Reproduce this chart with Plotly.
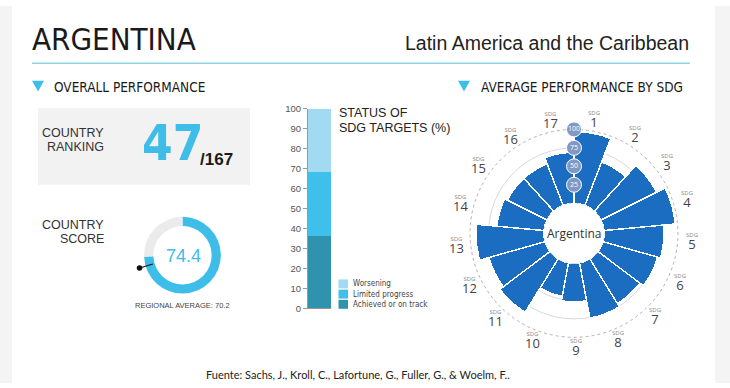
import math
import plotly.graph_objects as go

W, H = 730, 388

# ---------------- data ----------------
country = "ARGENTINA"
region = "Latin America and the Caribbean"
ranking = 47
n_countries = 167
score = 74.4
regional_avg = 70.2

status_labels = ["Achieved or on track", "Limited progress", "Worsening"]
status_values = [36.2, 32.0, 31.8]
status_colors = ["#2f93ae", "#3fc0ea", "#a2daf2"]

sdg_numbers = list(range(1, 18))
sdg_scores = [97, 63, 84, 97, 81, 77, 71, 76, 52, 46, 85, 79, 92, 64, 60, 60, 69]
radial_ticks = [25, 50, 75, 100]
bar_ticks = list(range(0, 101, 10))

BLUE = "#3dbde8"
NARROW = "DejaVu Sans Condensed, Liberation Sans Narrow, sans-serif"
SANS = "Liberation Sans, Arial, sans-serif"
OPEN = "Open Sans, sans-serif"


def X(px):
    return px / W


def Y(py):
    return 1 - py / H


fig = go.Figure()

# ---------------- stacked status bar ----------------
for lab, val, col in zip(status_labels, status_values, status_colors):
    fig.add_trace(go.Bar(x=[0.5], y=[val], width=1, name=lab, marker=dict(color=col, line=dict(width=0)),
                         showlegend=False, hoverinfo="skip", xaxis="x", yaxis="y"))

# ---------------- donut ----------------
fig.add_trace(go.Pie(values=[score, 100 - score], marker=dict(colors=[BLUE, "#ebebeb"], line=dict(width=0)),
                     hole=0.76, sort=False, direction="clockwise", rotation=0, textinfo="none",
                     hoverinfo="skip", showlegend=False,
                     domain=dict(x=[X(143), X(222)], y=[Y(296), Y(217)])))

# ---------------- polar SDG chart ----------------
n = len(sdg_numbers)
step = 360 / n
thetas = [(i + 0.5) * step for i in range(n)]

fig.add_trace(go.Scatterpolar(r=[100] * 361, theta=list(range(361)), mode="lines",
                              line=dict(color="#b0b0b0", width=1, dash="dot"),
                              hoverinfo="skip", showlegend=False))
fig.add_trace(go.Barpolar(r=sdg_scores, theta=thetas, width=[step] * n,
                          marker=dict(color="#1b6dc1", line=dict(color="white", width=1.5)),
                          hoverinfo="skip", showlegend=False))
fig.add_trace(go.Scatterpolar(r=radial_ticks, theta=[0] * len(radial_ticks), mode="markers+text",
                              text=[str(t) for t in radial_ticks], textposition="middle center",
                              textfont=dict(color="white", size=7, family=OPEN),
                              marker=dict(size=15, color="#8198c4", line=dict(color="white", width=1)),
                              hoverinfo="skip", showlegend=False))

PCX, PCY, PR = 574, 234, 126
HOLE = 31 / PR

layout_shapes = []
annotations = []

# side gray strips
layout_shapes.append(dict(type="rect", xref="paper", yref="paper", x0=0, x1=X(12), y0=0, y1=1,
                          fillcolor="#f4f4f4", line=dict(width=0), layer="below"))
layout_shapes.append(dict(type="rect", xref="paper", yref="paper", x0=X(715), x1=1, y0=0, y1=1,
                          fillcolor="#f4f4f4", line=dict(width=0), layer="below"))
# header rule
layout_shapes.append(dict(type="line", xref="paper", yref="paper", x0=X(32), x1=X(690), y0=Y(59), y1=Y(59),
                          line=dict(color="#8fd2e2", width=1.5)))
# triangles
for tx in (32, 458):
    layout_shapes.append(dict(type="path", xref="paper", yref="paper",
                              path=f"M {X(tx)} {Y(77)} L {X(tx + 12)} {Y(77)} L {X(tx + 6)} {Y(88)} Z",
                              fillcolor=BLUE, line=dict(width=0)))
# gray ranking box
layout_shapes.append(dict(type="rect", xref="paper", yref="paper", x0=X(38), x1=X(250), y0=Y(184), y1=Y(105),
                          fillcolor="#f2f2f2", line=dict(width=0), layer="below"))

# regional average marker on donut
dcx, dcy = 182.5, 256.3
ang = math.radians(regional_avg / 100 * 360)
sx, sy = dcx + 31 * math.sin(ang), dcy - 31 * math.cos(ang)
ex, ey = dcx + 45 * math.sin(ang), dcy - 45 * math.cos(ang)
layout_shapes.append(dict(type="line", xref="paper", yref="paper", x0=X(sx), y0=Y(sy), x1=X(ex), y1=Y(ey),
                          line=dict(color="#111", width=1.2)))
layout_shapes.append(dict(type="circle", xref="paper", yref="paper", x0=X(ex - 2.8), x1=X(ex + 2.8),
                          y0=Y(ey + 2.8), y1=Y(ey - 2.8), fillcolor="#111", line=dict(width=0)))

# status legend (manual)
leg_y = [286, 296.5, 307]
for (lab, col), yy in zip(list(zip(status_labels, status_colors))[::-1], leg_y):
    layout_shapes.append(dict(type="rect", xref="paper", yref="paper", x0=X(338.5), x1=X(348),
                              y0=Y(yy + 4.6), y1=Y(yy - 4.6), fillcolor=col, line=dict(width=0)))
    annotations.append(dict(x=X(351), y=Y(yy), text=lab, xanchor="left", yanchor="middle",
                            font=dict(family=NARROW, size=8, color="#444")))


def ann(x, y, text, size, color="#222", family=SANS, xanchor="left", weight=None):
    f = dict(family=family, size=size, color=color)
    if weight:
        f["weight"] = weight
    annotations.append(dict(x=X(x), y=Y(y), text=text, xanchor=xanchor, yanchor="middle",
                            font=f))


ann(30, 34, country, 31, "#1a1a1a", NARROW)
ann(691, 38, region, 19.5, "#222", SANS, xanchor="right")
ann(52, 83, "OVERALL PERFORMANCE", 13.5, "#1a1a1a", NARROW)
ann(479, 83, "AVERAGE PERFORMANCE BY SDG", 13.5, "#1a1a1a", NARROW)
ann(106, 131, "COUNTRY", 12.5, "#333", SANS, xanchor="right")
ann(106, 145, "RANKING", 12.5, "#333", SANS, xanchor="right")
ann(106, 225, "COUNTRY", 12.5, "#333", SANS, xanchor="right")
ann(106, 240, "SCORE", 12.5, "#333", SANS, xanchor="right")
ann(140, 141, str(ranking), 49, BLUE, NARROW, weight="bold")
ann(198, 158, f"/{n_countries}", 17, "#1a1a1a", SANS, weight="bold")
ann(dcx + 1, 257.5, f"{score}", 18, BLUE, SANS, xanchor="center")
ann(182, 308, f"REGIONAL AVERAGE: {regional_avg}", 7.5, "#444", SANS, xanchor="center")
ann(337, 110.5, "STATUS OF", 12.5, "#222", SANS)
ann(337, 126, "SDG TARGETS (%)", 12.5, "#222", SANS)
ann(358, 379, "Fuente: Sachs, J., Kroll, C., Lafortune, G., Fuller, G., & Woelm, F..", 11, "#222",
    "Lato, sans-serif", xanchor="center")
ann(PCX, PCY, "Argentina", 12, "#333", OPEN, xanchor="center")

# SDG labels around polar chart
RL = 118
for num, th in zip(sdg_numbers, thetas):
    a = math.radians(th - 0.8)
    lx, ly = PCX + RL * math.sin(a), PCY - RL * math.cos(a)
    ann(lx, ly, f"<span style='font-size:6px;fill:#888'>SDG</span><br><span style='font-size:13px'>{num}</span>",
        9, "#444", OPEN, xanchor="center")

fig.update_layout(
    width=W, height=H, margin=dict(l=0, r=0, t=0, b=0),
    paper_bgcolor="white", plot_bgcolor="rgba(0,0,0,0)",
    barmode="stack", showlegend=False,
    xaxis=dict(domain=[X(308), X(331)], range=[0, 1], showticklabels=False, showgrid=False, zeroline=False,
               showline=True, linecolor="#999", linewidth=1, ticks="", fixedrange=True),
    yaxis=dict(domain=[Y(311), Y(106)], range=[0, 100], tickvals=bar_ticks, ticks="outside", ticklen=4,
               tickcolor="#999", showline=True, linecolor="#999", linewidth=1, showgrid=False, zeroline=False,
               tickfont=dict(family=SANS, size=9.5, color="#555")),
    polar=dict(domain=dict(x=[X(PCX - PR), X(PCX + PR)], y=[Y(PCY + PR), Y(PCY - PR)]),
               hole=HOLE, bgcolor="rgba(0,0,0,0)",
               radialaxis=dict(range=[0, 125], tickvals=[25, 50, 75], showticklabels=False, ticks="",
                               showline=False, gridcolor="rgba(20,30,60,0.17)", gridwidth=1,
                               layer="above traces"),
               angularaxis=dict(rotation=90, direction="clockwise", showgrid=False, showticklabels=False,
                                ticks="", showline=False)),
    shapes=layout_shapes,
    annotations=[dict(a, xref="paper", yref="paper", showarrow=False) for a in annotations],
)

fig.write_html("out.html", config={"displayModeBar": False},
               post_script="document.body.style.margin='0';document.body.style.padding='0';")
